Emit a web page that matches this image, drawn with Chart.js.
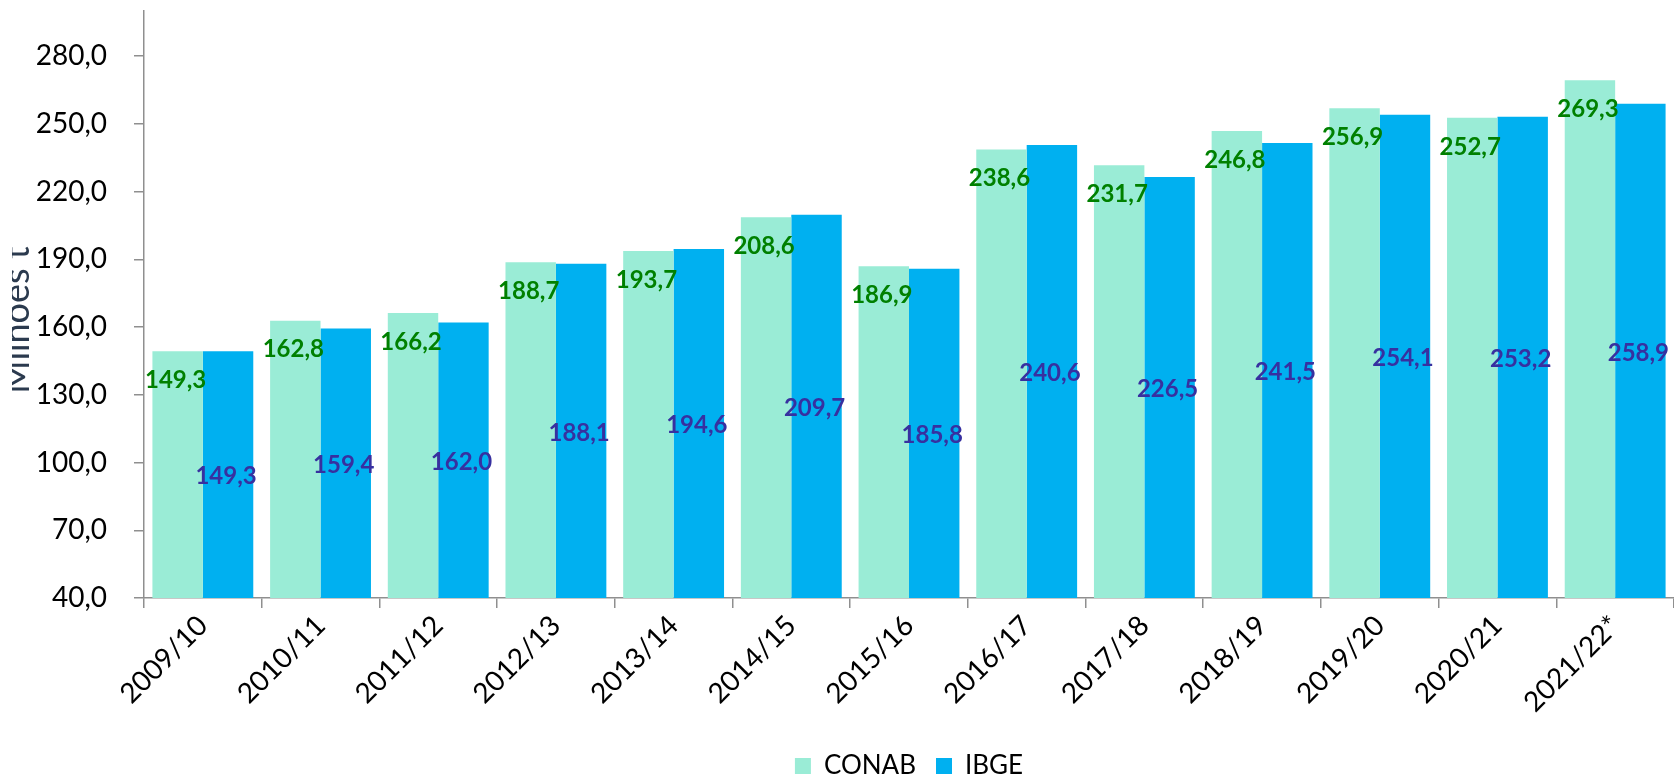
<!DOCTYPE html>
<html>
<head>
<meta charset="utf-8">
<script src="https://cdn.jsdelivr.net/npm/chart.js@4"></script>
<style>
  html, body { margin:0; padding:0; background:#fff; }
  #wrap { width:1674px; height:777px; position:relative; }
</style>
</head>
<body>
<div id="wrap"><canvas id="c"></canvas></div>
<script>
const categories = ['2009/10','2010/11','2011/12','2012/13','2013/14','2014/15','2015/16','2016/17','2017/18','2018/19','2019/20','2020/21','2021/22*'];
const conab = [149.3,162.8,166.2,188.7,193.7,208.6,186.9,238.6,231.7,246.8,256.9,252.7,269.3];
const ibge  = [149.3,159.4,162.0,188.1,194.6,209.7,185.8,240.6,226.5,241.5,254.1,253.2,258.9];
const yTicks = [40,70,100,130,160,190,220,250,280];
const yTitle = 'Milhões t';

const fmt = v => v.toFixed(1).replace('.', ',');

const labelPlugin = {
  id: 'barLabels',
  afterDatasetsDraw(chart) {
    const ctx = chart.ctx;
    const bottom = chart.chartArea.bottom;
    ctx.save();
    chart.data.datasets.forEach((ds, di) => {
      const meta = chart.getDatasetMeta(di);
      meta.data.forEach((bar, i) => {
        const txt = fmt(ds.data[i]);
        const y = di === 0 ? bar.y + 29 : (bar.y + Math.min(bar.base, bottom)) / 2 + 2;
        ctx.fillStyle = di === 0 ? '#008000' : '#3730a0';
        ctx.font = 'bold 24px Lato';
        ctx.textAlign = 'center';
        ctx.textBaseline = 'middle';
        ctx.fillText(txt, bar.x - 2, y);
      });
    });
    ctx.restore();
  }
};

const titlePlugin = {
  id: 'yTitle',
  afterDraw(chart) {
    const ctx = chart.ctx;
    ctx.save();
    ctx.beginPath();
    ctx.rect(12, 0, 200, 777);
    ctx.clip();
    ctx.translate(29, 320);
    ctx.rotate(-Math.PI / 2);
    ctx.font = '36px Lato';
    ctx.fillStyle = '#2b3a4e';
    ctx.textAlign = 'center';
    ctx.textBaseline = 'alphabetic';
    ctx.fillText(yTitle, 0, 0);
    ctx.restore();
  }
};

const axisColor = '#8f8f8f';

new Chart(document.getElementById('c'), {
  type: 'bar',
  data: {
    labels: categories,
    datasets: [
      { label: 'CONAB', data: conab, backgroundColor: '#9aecd6', categoryPercentage: 0.857, barPercentage: 1.0, borderWidth: 0 },
      { label: 'IBGE', data: ibge, backgroundColor: '#00b0f0', categoryPercentage: 0.857, barPercentage: 1.0, borderWidth: 0 }
    ]
  },
  options: {
    responsive: true,
    maintainAspectRatio: false,
    animation: false,
    layout: { padding: { top: 11, right: -3, bottom: -12, left: 0 } },
    plugins: {
      tooltip: { enabled: false },
      legend: {
        position: 'bottom',
        fullSize: false,
        labels: {
          boxWidth: 16, boxHeight: 16, padding: 20,
          color: '#000',
          font: { family: 'Lato', size: 26 }
        }
      }
    },
    scales: {
      x: {
        ticks: { minRotation: 45, maxRotation: 45, color: '#000', font: { family: 'Lato', size: 28 }, padding: 1, autoSkip: false },
        grid: { drawOnChartArea: false, tickLength: 10, color: axisColor, lineWidth: 1.5, offset: true },
        border: { color: axisColor, width: 1.5 },
        afterFit: s => { s.height = 135; }
      },
      y: {
        min: 40, max: 300,
        afterBuildTicks: s => { s.ticks = yTicks.map(v => ({ value: v })); },
        ticks: { padding: 27, color: '#000', font: { family: 'Lato', size: 28 }, callback: v => fmt(v) },
        grid: { drawOnChartArea: false, tickLength: 10, color: axisColor, lineWidth: 1.5 },
        border: { color: axisColor, width: 1.5 },
        afterFit: s => { s.width = 144; s.paddingTop = 0; s.paddingBottom = 0; }
      }
    }
  },
  plugins: [labelPlugin, titlePlugin]
});
</script>
</body>
</html>
